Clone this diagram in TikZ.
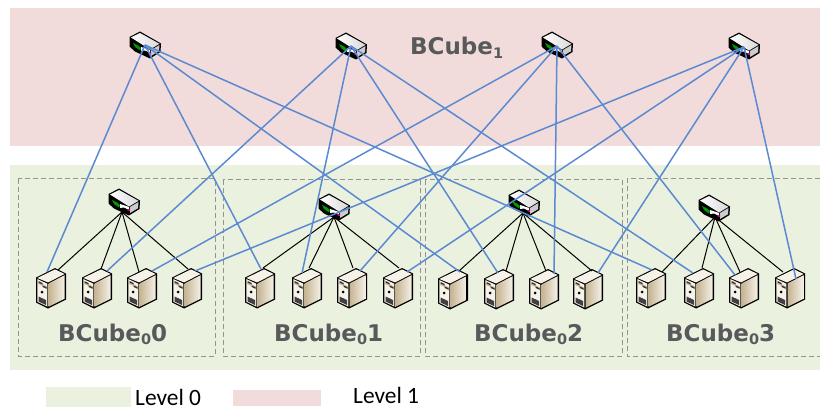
\documentclass[tikz,border=0pt]{standalone}
\usepackage{fontspec}
\setmainfont{Carlito}
\newfontfamily\cubefont{DejaVu Sans}
\definecolor{bandred}{HTML}{F2DCDB}
\definecolor{bandgreen}{HTML}{EBF1DF}
\definecolor{linkblue}{HTML}{5B8AD2}
\definecolor{cubegray}{HTML}{58595B}
\definecolor{servertan}{HTML}{C6B493}
\definecolor{servercream}{HTML}{F6F2E8}
\newcommand{\lowsub}[1]{\raisebox{-3.5pt}{\fontsize{14.5}{15}\selectfont #1}}
\tikzset{
  uplink/.style={color=linkblue,line width=1.5pt},
  downlink/.style={color=black,line width=1pt},
  cubebox/.style={color=gray!85,line width=1pt,dash pattern=on 5pt off 3pt},
  cubelabel/.style={anchor=base west,inner sep=0pt,text=cubegray,font=\cubefont\bfseries\fontsize{23}{25}\selectfont},
  levellabel/.style={anchor=base west,inner sep=0pt,font=\fontsize{23.4}{25}\selectfont},
  server/.pic={
    \fill[fill=black] (-15,-10.5)--(4,-20)--(15,-14.5)--(15,11.5)--(-3,20.5)--(-15,14.5)--cycle;
    \fill[fill=servercream] (-13.7,-10)--(4,-18.6)--(13.7,-14)--(-3,-5.6)--cycle;
    \fill[fill=servercream] (-13.7,-9)--(-3.6,-4.3)--(-3.6,18.6)--(-13.7,13.8)--cycle;
    \shade[left color=servertan,right color=servercream] (-2.4,-4.6)--(13.7,-12.8)--(13.7,10.7)--(-2.4,18.8)--cycle;
    \fill[fill=servertan] (-13,-5.8)--(-4.2,-1.6)--(-4.2,0)--(-13,-4.2)--cycle;
    \fill[fill=black!80] (-12.5,-7)--(-8.5,-5)--(-8.5,-3.5)--(-12.5,-5.5)--cycle;
    \fill[fill=black!80] (-8.5,-2.6)--(-4.5,-0.7)--(-4.5,0.8)--(-8.5,-1.1)--cycle;
    \fill[fill=black] (-9,4) circle(1.5);
    \fill[fill=black!75] (-12.5,8.5)--(-5,12)--(-5,17)--(-12.5,13.5)--cycle;
  },
  netswitch/.pic={
    \fill[fill=black] (-15.5,-8)--(-5,-13.5)--(16,-1.5)--(15.5,7)--(5,13.5)--(-10,6.5)--(-15.5,1.5)--cycle;
    \shade[left color=white,right color=black!15] (-14,-7.5)--(-5,-12)--(14.5,-1.2)--(5,4.5)--cycle;
    \fill[fill=black!20] (6,5)--(14.5,0)--(14,6.2)--(6,11)--cycle;
    \fill[fill=white] (-4,2)--(5,5)--(5,8)--(0,5.5)--(-4,6)--cycle;
    \fill[fill=green!60!black] (-12,-2)--(-7,0.5)--(-4,3)--(-5,5.5)--(-10,2)--cycle;
    \fill[fill=magenta] (3.5,7)--(6,7.5)--(6,9)--(3.5,8.5)--cycle;
  }
}
\begin{document}
\begin{tikzpicture}[x=1pt,y=-1pt]
  \useasboundingbox (0,0) rectangle (820,409);
  % bands and legend
  \fill[fill=bandred] (10,8) rectangle (820,146);
  \fill[fill=bandgreen] (10,165) rectangle (820,370);
  \fill[fill=bandgreen] (46,387) rectangle (131,407);
  \fill[fill=bandred] (233,390) rectangle (321,406);
  \node[levellabel] (level0) at (135,405) {Level 0};
  \node[levellabel] (level1) at (353,403) {Level 1};
  % dashed cubes
  \draw[cubebox] (18,179) rectangle (215,356);
  \draw[cubebox] (223,180) rectangle (420,356);
  \draw[cubebox] (425,180) rectangle (622,356);
  \draw[cubebox] (820,179) -- (627,179) -- (627,356) -- (820,356);
  \node[cubelabel] (cube1) at (410,55) {BCube\lowsub{1}};
  \node[cubelabel] (cube00) at (58,341) {BCube\lowsub{0}0};
  \node[cubelabel] (cube01) at (274,341) {BCube\lowsub{0}1};
  \node[cubelabel] (cube02) at (474,341) {BCube\lowsub{0}2};
  \node[cubelabel] (cube03) at (666,341) {BCube\lowsub{0}3};
  % switches
  \coordinate (t0) at (145,45); \pic at (145,45) {netswitch};
  \coordinate (t1) at (351,46); \pic at (351,46) {netswitch};
  \coordinate (t2) at (557,46); \pic at (557,45) {netswitch};
  \coordinate (t3) at (744,47); \pic at (744,46) {netswitch};
  \coordinate (l0) at (122,212); \pic at (124,202) {netswitch};
  \coordinate (l1) at (334,217); \pic at (334,207) {netswitch};
  \coordinate (l2) at (523,213); \pic at (524,203) {netswitch};
  \coordinate (l3) at (715,217); \pic at (714,208) {netswitch};
  % servers, with the ends of their two links
  \pic at (51,288) {server}; \coordinate (u00) at (47,272); \coordinate (d00) at (58,270);
  \pic at (97,288) {server}; \coordinate (u01) at (107,271); \coordinate (d01) at (101,269);
  \pic at (142,288) {server}; \coordinate (u02) at (152,271); \coordinate (d02) at (139,272);
  \pic at (187,288) {server}; \coordinate (u03) at (195,271); \coordinate (d03) at (188,269);
  \pic at (260,288) {server}; \coordinate (u10) at (261,269); \coordinate (d10) at (263,268);
  \pic at (307,288) {server}; \coordinate (u11) at (302,273); \coordinate (d11) at (309,268);
  \pic at (352,288) {server}; \coordinate (u12) at (360,271); \coordinate (d12) at (353,268);
  \pic at (398,288) {server}; \coordinate (u13) at (407,272); \coordinate (d13) at (399,268);
  \pic at (453,289) {server}; \coordinate (u20) at (460,272); \coordinate (d20) at (459,271);
  \pic at (499,289) {server}; \coordinate (u21) at (498,273); \coordinate (d21) at (506,271);
  \pic at (544,289) {server}; \coordinate (u22) at (554,274); \coordinate (d22) at (546,271);
  \pic at (588,289) {server}; \coordinate (u23) at (598,273); \coordinate (d23) at (592,271);
  \pic at (651,288) {server}; \coordinate (u30) at (652,270); \coordinate (d30) at (662,272);
  \pic at (699,288) {server}; \coordinate (u31) at (693,273); \coordinate (d31) at (702,268);
  \pic at (744,288) {server}; \coordinate (u32) at (735,275); \coordinate (d32) at (740,272);
  \pic at (790,288) {server}; \coordinate (u33) at (796,279); \coordinate (d33) at (783,272);
  % level 0 links
  \draw[downlink] (l0) -- (d00); \draw[downlink] (l0) -- (d01); \draw[downlink] (l0) -- (d02); \draw[downlink] (l0) -- (d03);
  \draw[downlink] (l1) -- (d10); \draw[downlink] (l1) -- (d11); \draw[downlink] (l1) -- (d12); \draw[downlink] (l1) -- (d13);
  \draw[downlink] (l2) -- (d20); \draw[downlink] (l2) -- (d21); \draw[downlink] (l2) -- (d22); \draw[downlink] (l2) -- (d23);
  \draw[downlink] (l3) -- (d30); \draw[downlink] (l3) -- (d31); \draw[downlink] (l3) -- (d32); \draw[downlink] (l3) -- (d33);
  % level 1 links
  \draw[uplink] (t0) -- (u00); \draw[uplink] (t0) -- (u10); \draw[uplink] (t0) -- (u20); \draw[uplink] (t0) -- (u30);
  \draw[uplink] (t1) -- (u01); \draw[uplink] (t1) -- (u11); \draw[uplink] (t1) -- (u21); \draw[uplink] (t1) -- (u31);
  \draw[uplink] (t2) -- (u02); \draw[uplink] (t2) -- (u12); \draw[uplink] (t2) -- (u22); \draw[uplink] (t2) -- (u32);
  \draw[uplink] (t3) -- (u03); \draw[uplink] (t3) -- (u13); \draw[uplink] (t3) -- (u23); \draw[uplink] (t3) -- (u33);
\end{tikzpicture}
\end{document}
